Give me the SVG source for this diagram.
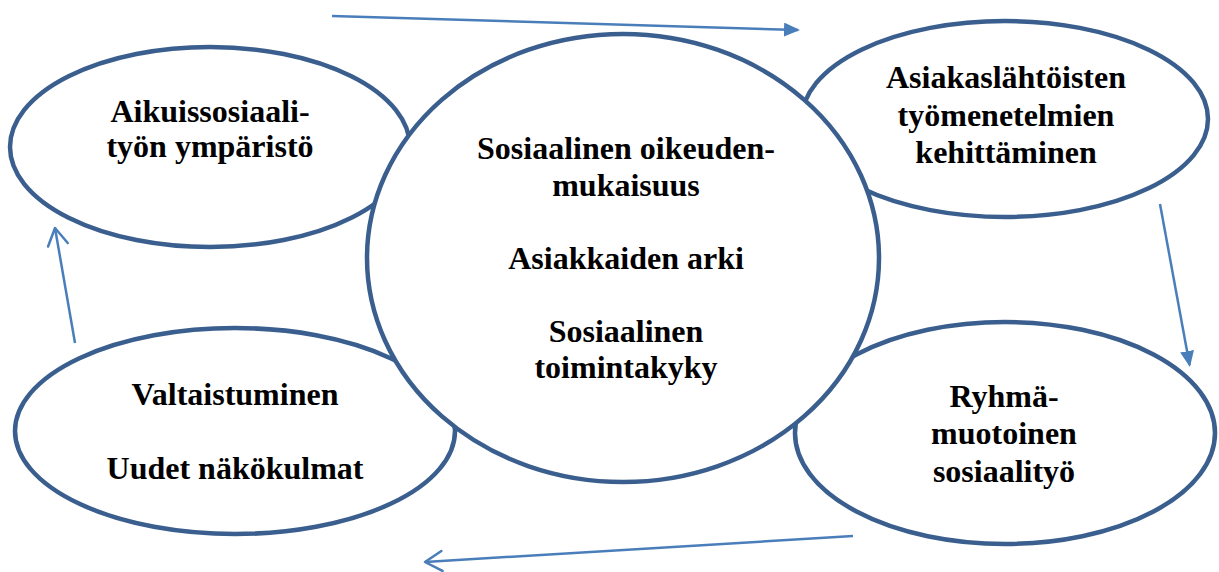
<svg xmlns="http://www.w3.org/2000/svg" width="1219" height="572" viewBox="0 0 1219 572">
<style>
.node ellipse{fill:#fff;stroke:#3A5F8E;stroke-width:4.5}
.node text{font-family:'Liberation Serif','DejaVu Serif',serif;font-weight:700;font-size:32px;fill:#000;text-anchor:middle}
.conn line{stroke:#4A7EBB;stroke-width:2.5;fill:none}
</style>
<defs>
<marker id="tri" markerUnits="userSpaceOnUse" viewBox="0 0 16 14" refX="14" refY="7" markerWidth="16" markerHeight="14" orient="auto">
<path d="M0,0 L16,7 L0,14 z" fill="#4A7EBB"/>
</marker>
<marker id="vee" markerUnits="userSpaceOnUse" viewBox="-2 -2 22 24" refX="17" refY="10" markerWidth="22" markerHeight="24" orient="auto">
<path d="M0,0 L17,10 L0,20" fill="none" stroke="#4A7EBB" stroke-width="2.5" stroke-linecap="round" stroke-linejoin="round"/>
</marker>
</defs>
<g id="n-aikuis" class="node">
<ellipse cx="210" cy="147" rx="200" ry="100"/>
<text x="210" y="122">Aikuissosiaali-</text>
<text x="210" y="157">työn ympäristö</text>
</g>
<g id="n-asiakas" class="node">
<ellipse cx="1005" cy="119" rx="203" ry="98"/>
<text x="1006" y="88">Asiakaslähtöisten</text>
<text x="1006" y="126">työmenetelmien</text>
<text x="1006" y="163">kehittäminen</text>
</g>
<g id="n-ryhma" class="node">
<ellipse cx="1005" cy="433" rx="210" ry="111"/>
<text x="1004" y="407">Ryhmä-</text>
<text x="1004" y="444">muotoinen</text>
<text x="1004" y="482">sosiaalityö</text>
</g>
<g id="n-valta" class="node">
<ellipse cx="235" cy="431" rx="220" ry="103"/>
<text x="235" y="405">Valtaistuminen</text>
<text x="235" y="479">Uudet näkökulmat</text>
</g>
<g id="n-center" class="node">
<ellipse cx="623" cy="258" rx="256" ry="224"/>
<text x="626" y="159">Sosiaalinen oikeuden-</text>
<text x="626" y="195.5">mukaisuus</text>
<text x="626" y="268.5">Asiakkaiden arki</text>
<text x="626" y="341.5">Sosiaalinen</text>
<text x="626" y="378">toimintakyky</text>
</g>
<g id="connectors" class="conn">
<line x1="332" y1="16" x2="798" y2="30" marker-end="url(#tri)"/>
<line x1="1160" y1="204" x2="1189.6" y2="365" marker-end="url(#tri)"/>
<line x1="853" y1="536" x2="425" y2="562" marker-end="url(#vee)"/>
<line x1="75" y1="343" x2="55" y2="228" marker-end="url(#vee)"/>
</g>
</svg>
